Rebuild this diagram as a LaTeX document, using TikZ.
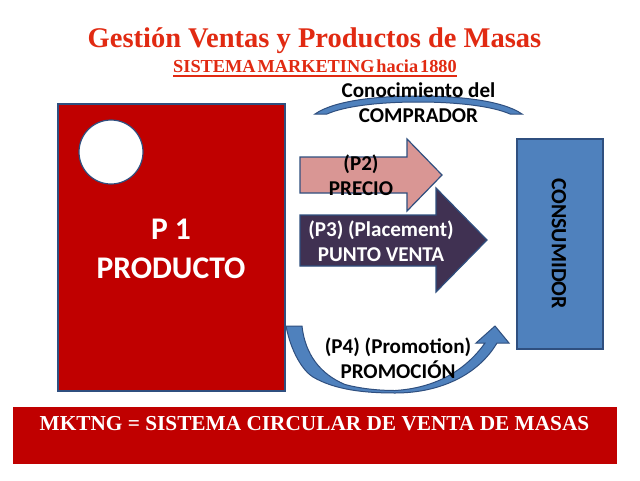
\documentclass[tikz,border=0pt]{standalone}
\usepackage{fontspec}
\setmainfont{Liberation Serif}
\newfontfamily\carl{Carlito}
\definecolor{crimson}{HTML}{C00000}
\definecolor{edge}{HTML}{2F4F7F}
\definecolor{steel}{HTML}{4F81BD}
\definecolor{rose}{HTML}{D99694}
\definecolor{plum}{HTML}{403152}
\definecolor{titlered}{HTML}{E12A12}
\tikzset{
  shapeline/.style={draw=edge,line width=1.2pt,line join=miter},
  lbl/.style={font=\carl\fontsize{21.1}{25}\selectfont\bfseries,align=center,inner sep=0pt,text=black},
}
\begin{document}
\begin{tikzpicture}[x=1pt,y=-1pt]
\useasboundingbox (0,0) rectangle (640,480);
\fill[white] (0,0) rectangle (640,480);
% bottom bar
\fill[crimson] (13,407) rectangle (617,464);
% product
\draw[shapeline,fill=crimson] (58,104) rectangle (285,391);
\draw[shapeline,fill=white] (111,152) circle (32);
% consumer
\draw[shapeline,fill=steel] (517,139) rectangle (603,349);
% top arc
\draw[shapeline,fill=steel,line width=1pt] (315,114) .. controls (335,100) and (380,96) .. (418,96) .. controls (456,96) and (502,100) .. (522,114) -- (510,114) .. controls (492,106) and (456,102) .. (418,102) .. controls (380,102) and (345,106) .. (327,114) -- cycle;
% P2 arrow
\draw[shapeline,fill=rose] (300,157) -- (407,157) -- (407,139) -- (442,175) -- (407,211) -- (407,193) -- (300,193) -- cycle;
% P3 arrow
\draw[shapeline,fill=plum] (300,215) -- (436,215) -- (436,188) -- (487,240) -- (436,292) -- (436,266) -- (300,266) -- cycle;
% P4 curved arrow
\draw[shapeline,fill=steel,line width=1pt] (286,326) -- (302,326) .. controls (305,354) and (320,374) .. (345,384.5) .. controls (362,389) and (380,390.5) .. (395,390.5) .. controls (435,388) and (465,371) .. (485,343) -- (476,343) -- (495,326) -- (509,343) -- (497,343) .. controls (478,375) and (440,393) .. (395,393) .. controls (365,393) and (335,390) .. (313,377) .. controls (303,371) and (291,352) .. (286,326) -- cycle;
% texts
\node[inner sep=0pt,text=titlered,font=\fontsize{28.5}{30}\selectfont\bfseries] (title) at (314.5,41) {Gestión Ventas y Productos de Masas};
\node[inner sep=0pt,text=titlered,font=\fontsize{18.3}{20}\selectfont\bfseries] (sub) at (315,66.5) {\spaceskip=2pt SISTEMA MARKETING hacia 1880};
\coordinate (ula) at (173,76);
\coordinate (ulb) at (457,76);
\draw[titlered,line width=1.2pt] (ula) -- (ulb);
\node[lbl] (conoc) at (418.5,103) {Conocimiento del\\COMPRADOR};
\node[lbl] (prec) at (361,175) {(P2)\\PRECIO};
\node[lbl,text=white] (punto) at (381,241) {(P3) (Placement)\\PUNTO VENTA};
\node[lbl] (promo) at (398,358.5) {(P4) (Promotion)\\PROMOCIÓN};
\node[lbl,rotate=-90,font=\carl\fontsize{21.8}{25}\selectfont\bfseries] (cons) at (559,243.5) {CONSUMIDOR};
\node[lbl,text=white,font=\carl\fontsize{31.5}{39}\selectfont\bfseries] (prod) at (171,249) {P 1\\PRODUCTO};
\node[inner sep=0pt,text=white,font=\fontsize{21.3}{23}\selectfont\bfseries] (bar) at (314.5,424) {MKTNG = SISTEMA CIRCULAR DE VENTA DE MASAS};
\end{tikzpicture}
\end{document}
